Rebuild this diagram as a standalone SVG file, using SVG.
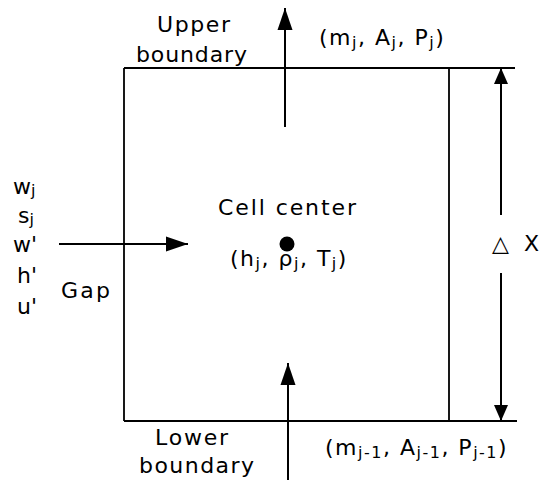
<svg xmlns="http://www.w3.org/2000/svg" width="540" height="480" viewBox="0 0 540 480">
<style>
  text { font-family: "DejaVu Sans", "Liberation Sans", sans-serif; font-size: 22px; fill: #000; }
  .sp { letter-spacing: 1.5px; }
  .sub { font-size: 16px; }
  .ln { stroke: #000; stroke-width: 1.8; fill: none; }
  .ar { stroke: #000; stroke-width: 2; fill: none; }
</style>
<defs>
  <marker id="big" markerUnits="userSpaceOnUse" markerWidth="24" markerHeight="16" refX="22" refY="8" orient="auto">
    <path d="M0,0.5 L22,8 L0,15.5 Z" fill="#000"/>
  </marker>
  <marker id="dim" markerUnits="userSpaceOnUse" markerWidth="18" markerHeight="14" refX="16" refY="7" orient="auto">
    <path d="M0,0 L16,7 L0,14 Z" fill="#000"/>
  </marker>
</defs>
<rect width="540" height="480" fill="#fff"/>

<g id="cell">
  <path class="ln" d="M124,68 L515,68 M124,421 L517,421 M124,68 L124,421 M449,68 L449,421"/>
</g>

<g id="connectors">
  <line class="ar" x1="285" y1="127" x2="285" y2="8" marker-end="url(#big)"/>
  <line class="ar" x1="288" y1="480" x2="288" y2="363" marker-end="url(#big)"/>
  <line class="ar" x1="59" y1="244" x2="188" y2="244" marker-end="url(#big)"/>
  <line class="ar" x1="501" y1="215" x2="501" y2="68" marker-end="url(#dim)"/>
  <line class="ar" x1="501" y1="273" x2="501" y2="421" marker-end="url(#dim)"/>
</g>

<g id="upper-boundary">
  <text x="157" y="32" textLength="73" lengthAdjust="spacing">Upper</text>
  <text x="136" y="62" textLength="111" lengthAdjust="spacing">boundary</text>
</g>

<g id="upper-values">
  <text class="sp" x="319" y="45">(m<tspan class="sub" dy="3">j</tspan><tspan dy="-3">, A</tspan><tspan class="sub" dy="3">j</tspan><tspan dy="-3">, P</tspan><tspan class="sub" dy="3">j</tspan><tspan dy="-3">)</tspan></text>
</g>

<g id="cell-center">
  <text x="218" y="215" textLength="138" lengthAdjust="spacing">Cell center</text>
  <circle cx="287" cy="244" r="7.5" fill="#000"/>
  <text class="sp" x="230" y="266">(h<tspan class="sub" dy="3">j</tspan><tspan dy="-3">, ρ</tspan><tspan class="sub" dy="3">j</tspan><tspan dy="-3">, T</tspan><tspan class="sub" dy="3">j</tspan><tspan dy="-3">)</tspan></text>
</g>

<g id="gap">
  <text x="13" y="194">w<tspan class="sub" dy="2">j</tspan></text>
  <text x="18" y="223">s<tspan class="sub" dy="2">j</tspan></text>
  <text x="13" y="252">w'</text>
  <text x="17" y="283">h'</text>
  <text x="17" y="314">u'</text>
  <text x="61" y="298" textLength="49" lengthAdjust="spacing">Gap</text>
</g>

<g id="delta-x">
  <text x="492" y="251">△</text>
  <text x="524" y="251">X</text>
</g>

<g id="lower-boundary">
  <text x="155" y="445" textLength="73" lengthAdjust="spacing">Lower</text>
  <text x="139" y="473" textLength="115" lengthAdjust="spacing">boundary</text>
</g>

<g id="lower-values">
  <text class="sp" x="325" y="455">(m<tspan class="sub" dy="3">j-1</tspan><tspan dy="-3">, A</tspan><tspan class="sub" dy="3">j-1</tspan><tspan dy="-3">, P</tspan><tspan class="sub" dy="3">j-1</tspan><tspan dy="-3">)</tspan></text>
</g>
</svg>
